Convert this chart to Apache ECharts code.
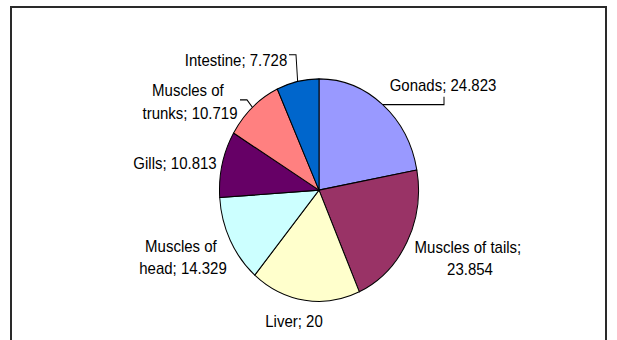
<!DOCTYPE html>
<html>
<head>
<meta charset="utf-8">
<script src="https://cdn.jsdelivr.net/npm/echarts@6/dist/echarts.min.js"></script>
<style>
  html, body { margin: 0; padding: 0; background: #fff; }
  #wrap { position: relative; width: 617px; height: 340px; overflow: hidden; background: #fff; }
  #frame { position: absolute; left: 10px; top: 6px; width: 597px; height: 400px;
           border: 2px solid #2a2a2a; box-sizing: border-box; }
  /* chart is laid out at 304px high and stretched to the 340px window */
  #chart { position: absolute; left: 0; top: 0; width: 617px; height: 304px;
           transform: scaleY(1.1184); transform-origin: 0 0; }
</style>
</head>
<body>
<div id="wrap">
  <div id="frame"></div>
  <div id="chart"></div>
</div>
<script>
// Organ shares (clockwise from 12 o'clock)
const categories = ['Gonads', 'Muscles of tails', 'Liver', 'Muscles of head', 'Gills', 'Muscles of trunks', 'Intestine'];
const values = [24.823, 23.854, 20, 14.329, 10.813, 10.719, 7.728];
const sliceColors = ['#9999FF', '#993366', '#FFFFCC', '#CCFFFF', '#660066', '#FF8080', '#0066CC'];

// label placement (chart pixels) and wrap widths
const labelAnchor = [[443, 76], [470, 231], [294, 287], [183, 230], [175, 145.5], [190, 91], [236, 53.6]];
const labelWidth = [200, 112, 200, 100, 200, 100, 200];
const withLeader = [true, false, false, false, false, true, true];

const chart = echarts.init(document.getElementById('chart'), null, { renderer: 'svg' });

const seriesData = categories.map((name, i) => ({
  name: name,
  value: values[i],
  itemStyle: { color: sliceColors[i] },
  label: { width: labelWidth[i], overflow: 'break' },
  labelLine: { show: withLeader[i] }
}));

chart.setOption({
  animation: false,
  series: [{
    type: 'pie',
    center: [319, 170],
    radius: [0, 99.5],
    startAngle: 90,
    clockwise: true,
    avoidLabelOverlap: false,
    data: seriesData,
    itemStyle: { borderColor: '#000', borderWidth: 1 },
    emphasis: { disabled: true },
    label: {
      show: true,
      position: 'outside',
      formatter: '{b}; {c}',
      fontFamily: '"Liberation Sans", Arial, sans-serif',
      fontSize: 15,
      lineHeight: 20,
      color: '#000',
      align: 'center'
    },
    labelLine: {
      length: 8,
      length2: 8,
      lineStyle: { color: '#000', width: 1 }
    },
    labelLayout: function (params) {
      const i = params.dataIndex;
      const a = labelAnchor[i];
      const out = { x: a[0], y: a[1], align: 'center', verticalAlign: 'middle' };
      const e = params.labelLinePoints && params.labelLinePoints[0];
      if (e) {
        if (i === 0) out.labelLinePoints = [e, [444, e[1]], [444, 86.5]];
        if (i === 5) out.labelLinePoints = [e, [247, 89.3], [240, 89.3]];
        if (i === 6) out.labelLinePoints = [e, [296, 49], [289, 49]];
      }
      return out;
    }
  }]
});
</script>
</body>
</html>
